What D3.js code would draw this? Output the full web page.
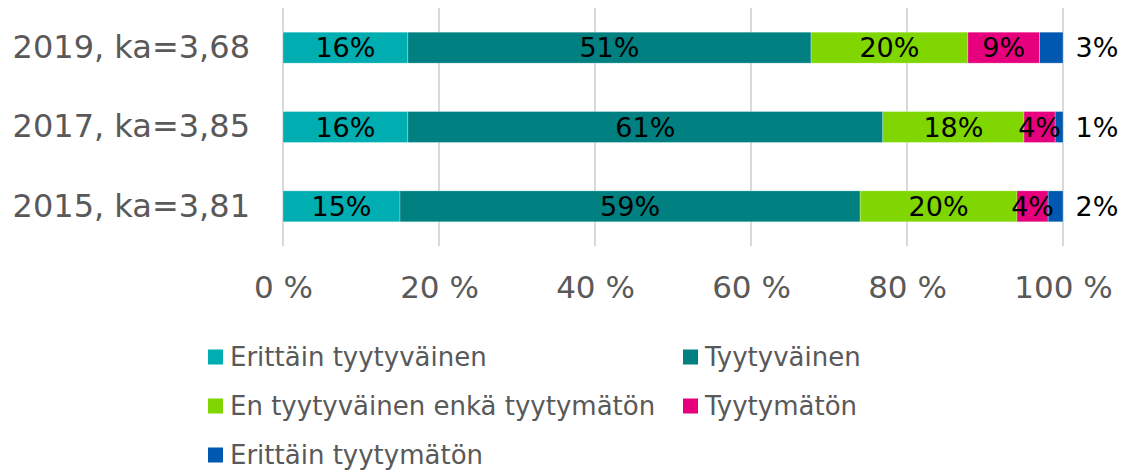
<!DOCTYPE html>
<html lang="fi">
<head>
<meta charset="UTF-8">
<title>Tyytyväisyys</title>
<script src="https://d3js.org/d3.v7.min.js"></script>
<style>
body { margin: 0; background: #fff; overflow: hidden; }
text { font-family: "DejaVu Sans", Verdana, sans-serif; }
.tick text { fill: #595959; }
.legend text { fill: #595959; }
</style>
</head>
<body>
<svg width="1125" height="471"></svg>
<script>
// categories (top to bottom)
const years = ["2019, ka=3,68", "2017, ka=3,85", "2015, ka=3,81"];
const seriesNames = [
  "Erittäin tyytyväinen",
  "Tyytyväinen",
  "En tyytyväinen enkä tyytymätön",
  "Tyytymätön",
  "Erittäin tyytymätön"
];
const colors = ["#00ADB0", "#008080", "#7FD600", "#E6007E", "#0058B0"];

// segment values (%)
const erittainTyytyvainen = [16.0, 16.0, 15.0];
const tyytyvainen = [51.7, 60.9, 59.0];
const enTyytyvainenEnka = [20.1, 18.1, 20.1];
const tyytymaton = [9.2, 4.0, 4.0];
const erittainTyytymaton = [3.0, 1.0, 1.9];

// printed labels
const labelsErittainTyytyvainen = ["16%", "16%", "15%"];
const labelsTyytyvainen = ["51%", "61%", "59%"];
const labelsEnka = ["20%", "18%", "20%"];
const labelsTyytymaton = ["9%", "4%", "4%"];
const labelsErittainTyytymaton = ["3%", "1%", "2%"];

const xTicks = [0, 20, 40, 60, 80, 100];

const seriesValues = [erittainTyytyvainen, tyytyvainen, enTyytyvainenEnka, tyytymaton, erittainTyytymaton];
const seriesLabels = [labelsErittainTyytyvainen, labelsTyytyvainen, labelsEnka, labelsTyytymaton, labelsErittainTyytymaton];

const svg = d3.select("svg");
const margin = { left: 283, right: 62, top: 8 };
const plotW = 780, plotH = 238;

const x = d3.scaleLinear().domain([0, 100]).range([margin.left, margin.left + plotW]);
const y = d3.scaleBand().domain(years).range([margin.top, margin.top + plotH]).paddingInner(0.61).paddingOuter(0.305);

// gridlines
svg.append("g").selectAll("line").data(xTicks).join("line")
  .attr("x1", d => x(d)).attr("x2", d => x(d))
  .attr("y1", margin.top).attr("y2", margin.top + plotH)
  .attr("stroke", "#D9D9D9").attr("stroke-width", 2);

// x axis
const xAxis = svg.append("g")
  .attr("transform", `translate(0,${margin.top + plotH})`)
  .call(d3.axisBottom(x).tickValues(xTicks).tickSize(0).tickPadding(30).tickFormat(d => d + " %"));
xAxis.select(".domain").remove();
xAxis.selectAll("text").style("font-size", "31px");

// y axis
const yAxis = svg.append("g")
  .attr("transform", `translate(${margin.left},0)`)
  .call(d3.axisLeft(y).tickSize(0).tickPadding(33));
yAxis.select(".domain").remove();
yAxis.selectAll("text").style("font-size", "32px");

// build stacked rows
const rows = [];
years.forEach((yr, i) => {
  let acc = 0;
  seriesValues.forEach((vals, s) => {
    rows.push({ year: yr, s, x0: acc, x1: acc + vals[i], label: seriesLabels[s][i] });
    acc += vals[i];
  });
});

svg.append("g").selectAll("rect").data(rows).join("rect")
  .attr("x", d => x(d.x0))
  .attr("width", d => x(d.x1) - x(d.x0))
  .attr("y", d => y(d.year))
  .attr("height", y.bandwidth())
  .attr("fill", d => colors[d.s])
  .attr("stroke", "#fff").attr("stroke-opacity", 0.35).attr("stroke-width", 0.8);

svg.append("g").selectAll("text").data(rows).join("text")
  .attr("x", d => d.s === 4 ? x(100) + 34 : (x(d.x0) + x(d.x1)) / 2)
  .attr("y", d => y(d.year) + y.bandwidth() / 2)
  .attr("dy", "0.36em")
  .attr("text-anchor", "middle")
  .style("font-size", "27px")
  .attr("fill", "#000")
  .text(d => d.label);

// legend
const legend = svg.append("g").attr("class", "legend");
const legendPos = [[208, 357], [683, 357], [208, 406], [683, 406], [208, 455]];
seriesNames.forEach((name, i) => {
  const g = legend.append("g").attr("transform", `translate(${legendPos[i][0]},${legendPos[i][1]})`);
  g.append("rect").attr("x", 0).attr("y", -7.5).attr("width", 15).attr("height", 15).attr("fill", colors[i]);
  g.append("text").attr("x", 22).attr("dy", "0.36em").style("font-size", "26px").text(name);
});
</script>
</body>
</html>
